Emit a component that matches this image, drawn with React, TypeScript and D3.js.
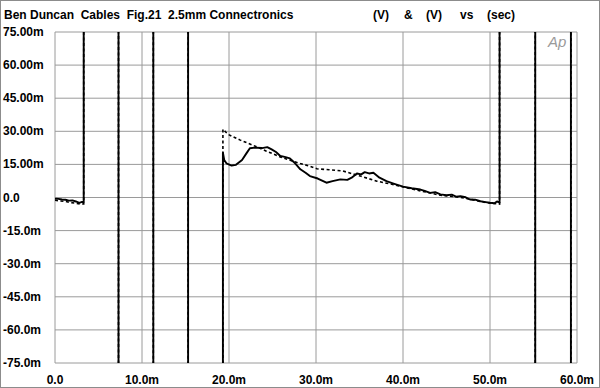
import React from 'react';
import * as d3 from 'd3';

// time axis in ms, values in mV
const xTicks = [0, 10, 20, 30, 40, 50, 60];
const xTickLabels = ['0.0', '10.0m', '20.0m', '30.0m', '40.0m', '50.0m', '60.0m'];
const yTicks = [75, 60, 45, 30, 15, 0, -15, -30, -45, -60, -75];
const yTickLabels = ['75.00m', '60.00m', '45.00m', '30.00m', '15.00m', '0.0', '-15.0m', '-30.0m', '-45.0m', '-60.0m', '-75.0m'];

// off-scale levels of the burst (clipped by the plot)
const HI = 250;
const LO = -250;

// solid trace
const solidT = [
  0, 0.4, 0.8, 1.2, 1.6, 2.0, 2.4, 2.8, 3.1, 3.3,
  3.3, 7.3, 7.3, 11.3, 11.3, 15.3, 15.3, 19.3,
  19.3, 19.45, 19.7, 20.3, 20.8, 21.5, 22.0, 22.4, 23.0, 23.8, 24.4, 24.9, 25.4, 25.9, 26.4, 27.0, 27.6, 28.2,
  28.8, 29.3, 30.2, 31.2, 31.9, 32.8, 33.6, 34.1, 34.7, 35.2, 35.6, 36.1, 36.6, 37.3, 38.1, 39.0, 40.0, 41.0,
  42.0, 42.5, 43.1, 43.7, 44.3, 45.0, 45.6, 46.1, 46.6, 47.2, 47.7, 48.3, 48.9, 49.5, 50.0, 50.5, 50.8, 51.1,
  51.1, 55.2, 55.2, 59.3, 59.3, 60,
];
const solidV = [
  -0.5, -0.6, -0.9, -1.0, -1.4, -1.3, -1.8, -2.4, -2.0, -2.2,
  HI, HI, LO, LO, HI, HI, LO, LO,
  20.3, 17, 15.5, 14.5, 14.8, 17, 20, 22.3, 22.6, 22.4, 22.8, 21.8, 20.6, 18.8, 18.4, 17.7, 15.5, 12.8,
  11.2, 9.7, 8.6, 6.7, 7.4, 8.2, 8.0, 9.0, 10.9, 10.5, 11.5, 10.9, 11.2, 9.0, 7.4, 6.2, 4.9, 4.2,
  3.6, 3.0, 2.1, 2.4, 1.4, 1.0, 1.3, 0.4, 0.6, 0.1, -0.9, -1.0, -1.7, -2.1, -2.4, -2.6, -1.8, -2.3,
  HI, HI, LO, LO, HI, HI,
];

// dotted trace
const dottedT = [
  0, 0.6, 1.2, 1.8, 2.4, 3.0, 3.3,
  3.3, 7.3, 7.3, 11.3, 11.3, 15.3, 15.3, 19.3,
  19.3, 19.9, 21.3, 22.8, 24.3, 25.9, 27.4, 28.2, 29.3, 30.1, 31.5, 33.1, 35.1, 37.0, 39.3,
  40.5, 42.0, 43.2, 44.3, 45.5, 46.6, 47.8, 48.9, 50.0, 51.1,
  51.1, 55.2, 55.2, 59.3, 59.3, 60,
];
const dottedV = [
  -1.2, -1.6, -1.8, -2.3, -2.6, -3.0, -2.9,
  HI, HI, LO, LO, HI, HI, LO, LO,
  30.9, 28.6, 26, 23.6, 21, 18.4, 16.4, 15.4, 14.2, 13, 12.6, 12, 9.7, 7.4, 5.5,
  4.3, 3.0, 2.0, 1.0, 0.6, 0, -0.8, -1.8, -2.6, -3.0,
  HI, HI, LO, LO, HI, HI,
];

const W = 600;
const H = 388;
const M = { left: 55, right: 577, top: 32, bottom: 363 };
const FONT = '"Liberation Sans", Arial, sans-serif';

export default function App() {
  const x = d3.scaleLinear().domain([0, 60]).range([M.left, M.right]);
  const y = d3.scaleLinear().domain([-75, 75]).range([M.bottom, M.top]);

  const trace = d3
    .line<[number, number]>()
    .x((d) => x(d[0]))
    .y((d) => y(d[1]));

  const solidPath = trace(solidT.map((t, i) => [t, solidV[i]] as [number, number])) || '';
  const dottedPath = trace(dottedT.map((t, i) => [t, dottedV[i]] as [number, number])) || '';

  return (
    <svg width={W} height={H} style={{ position: 'absolute', left: 0, top: 0, background: '#fff' }}>
      <defs>
        <clipPath id="plot">
          <rect x={M.left} y={M.top} width={M.right - M.left} height={M.bottom - M.top} />
        </clipPath>
      </defs>
      <rect x={0.5} y={0.5} width={W - 1} height={H - 1} fill="#fff" stroke="#8c8c8c" />

      {/* grid */}
      {xTicks.map((t) => (
        <line key={'gx' + t} x1={x(t)} x2={x(t)} y1={M.top} y2={M.bottom} stroke="#9a9a9a" strokeWidth={1} />
      ))}
      {yTicks.map((t) => (
        <line key={'gy' + t} x1={M.left} x2={M.right} y1={y(t)} y2={y(t)} stroke="#9a9a9a" strokeWidth={1} />
      ))}

      <g clipPath="url(#plot)">
        <path d={dottedPath} fill="none" stroke="#000" strokeWidth={1.6} strokeDasharray="3,2.5" />
        <path d={solidPath} fill="none" stroke="#000" strokeWidth={1.9} strokeLinejoin="round" />
      </g>

      {/* labels */}
      <g fontFamily={FONT} fontWeight="bold" fontSize={12} fill="#000">
        {yTickLabels.map((s, i) => (
          <text key={'yl' + i} x={3} y={y(yTicks[i]) + 4}>
            {s}
          </text>
        ))}
        {xTickLabels.map((s, i) => (
          <text key={'xl' + i} x={x(xTicks[i])} y={384} textAnchor="middle">
            {s}
          </text>
        ))}
        <text x={4} y={19} xmlSpace="preserve">
          Ben Duncan  Cables  Fig.21  2.5mm Connectronics
        </text>
        <text x={373} y={19}>(V)</text>
        <text x={404} y={19}>&amp;</text>
        <text x={426} y={19}>(V)</text>
        <text x={460} y={19}>vs</text>
        <text x={487} y={19}>(sec)</text>
      </g>
      <text x={548} y={47} fontFamily={FONT} fontStyle="italic" fontSize={15} fill="#9a9a9a">
        Ap
      </text>
    </svg>
  );
}
